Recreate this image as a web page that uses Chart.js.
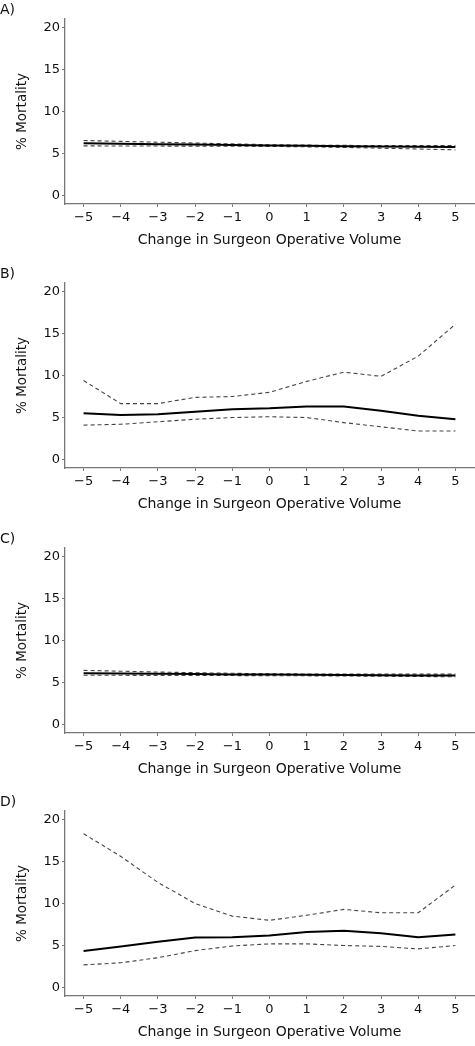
<!DOCTYPE html>
<html><head><meta charset="utf-8">
<script src="https://cdn.jsdelivr.net/npm/chart.js@4.4.1/dist/chart.umd.min.js"></script>
<style>
html,body{margin:0;padding:0;background:#fff;width:475px;height:1046px;overflow:hidden;position:relative;}
.panel{position:absolute;left:0;width:475px;height:254px;}
.panel canvas{display:block;position:absolute;left:0;top:0;}
.lab{position:absolute;left:0;top:0;line-height:18px;font-size:14px;font-family:"DejaVu Sans";color:#111;z-index:2;}
</style></head><body>
<div class="panel" style="top:0px"><div class="lab">A)</div><canvas id="cA" width="475" height="254"></canvas></div>
<div class="panel" style="top:264px"><div class="lab">B)</div><canvas id="cB" width="475" height="254"></canvas></div>
<div class="panel" style="top:529px"><div class="lab">C)</div><canvas id="cC" width="475" height="254"></canvas></div>
<div class="panel" style="top:792px"><div class="lab">D)</div><canvas id="cD" width="475" height="254"></canvas></div>
<script>
const xValues = [-5,-4,-3,-2,-1,0,1,2,3,4,5];
const xTicks = [-5,-4,-3,-2,-1,0,1,2,3,4,5];
const yTicks = [0,5,10,15,20];
const xTitle = 'Change in Surgeon Operative Volume';
const yTitle = '% Mortality';

const aMean  = [6.22,6.17,6.12,6.07,6.02,5.97,5.92,5.88,5.84,5.81,5.79];
const aUpper = [6.55,6.45,6.35,6.25,6.15,6.05,6.0,5.97,5.95,5.95,5.95];
const aLower = [5.91,5.9,5.89,5.88,5.87,5.85,5.8,5.73,5.64,5.54,5.44];

const bMean  = [5.5,5.3,5.4,5.7,6.0,6.1,6.3,6.3,5.8,5.2,4.8];
const bUpper = [9.4,6.65,6.65,7.4,7.5,8.0,9.3,10.4,9.9,12.3,16.1];
const bLower = [4.1,4.2,4.5,4.8,5.0,5.1,5.0,4.4,3.9,3.4,3.4];

const cMean  = [6.12,6.08,6.05,6.01,5.97,5.95,5.92,5.9,5.87,5.85,5.83];
const cUpper = [6.45,6.35,6.25,6.17,6.1,6.05,6.02,6.0,6.0,6.0,6.0];
const cLower = [5.87,5.86,5.85,5.84,5.83,5.82,5.8,5.78,5.75,5.72,5.68];

const dMean  = [4.35,4.9,5.45,5.95,6.0,6.2,6.6,6.75,6.45,6.0,6.3];
const dUpper = [18.3,15.6,12.5,10.0,8.5,8.0,8.6,9.3,8.9,8.9,12.2];
const dLower = [2.7,2.95,3.55,4.4,4.95,5.2,5.2,5.0,4.9,4.6,5.0];

const axisColor = '#777777';
const textColor = '#111111';
const fam = 'DejaVu Sans';

function pts(arr){ return xValues.map((x,i)=>({x:x,y:arr[i]})); }
function fmt(v){ return v < 0 ? '\u2212' + Math.abs(v) : String(v); }

function makeChart(id, mean, upper, lower){
  new Chart(document.getElementById(id), {
    type:'line',
    data:{datasets:[
      {data:pts(mean), borderColor:'#000', borderWidth:2, pointRadius:0, tension:0, fill:false},
      {data:pts(upper), borderColor:'#444', borderWidth:1.1, borderDash:[4,3], pointRadius:0, tension:0, fill:false},
      {data:pts(lower), borderColor:'#444', borderWidth:1.1, borderDash:[4,3], pointRadius:0, tension:0, fill:false}
    ]},
    options:{
      responsive:false, animation:false,
      layout:{padding:{top:19,right:1,bottom:0,left:0}},
      plugins:{legend:{display:false}, tooltip:{enabled:false}},
      scales:{
        x:{type:'linear', min:-5.5, max:5.5,
          afterBuildTicks:(s)=>{ s.ticks = xTicks.map(v=>({value:v})); },
          afterFit:(s)=>{ s.height = 50; },
          grid:{display:true, drawOnChartArea:false, drawTicks:true, tickLength:3, color:axisColor, tickColor:axisColor},
          border:{display:true, color:axisColor, width:1.3},
          ticks:{padding:3, color:textColor, autoSkip:false, maxRotation:0, font:{family:fam, size:13}, callback:(v)=>fmt(v)},
          title:{display:true, text:xTitle, color:textColor, font:{family:fam, size:14}, padding:{top:0,bottom:5}}
        },
        y:{type:'linear', min:-1, max:21,
          afterBuildTicks:(s)=>{ s.ticks = yTicks.map(v=>({value:v})); },
          afterFit:(s)=>{ s.width = 65; },
          grid:{display:true, drawOnChartArea:false, drawTicks:true, tickLength:3, color:axisColor, tickColor:axisColor},
          border:{display:true, color:axisColor, width:1.3},
          ticks:{padding:2, color:textColor, font:{family:fam, size:13}, callback:(v)=>fmt(v)},
          title:{display:true, text:yTitle, color:textColor, font:{family:fam, size:13.5}, padding:{top:13.9,bottom:0}}
        }
      }
    }
  });
}
makeChart('cA', aMean, aUpper, aLower);
makeChart('cB', bMean, bUpper, bLower);
makeChart('cC', cMean, cUpper, cLower);
makeChart('cD', dMean, dUpper, dLower);
</script>
</body></html>
